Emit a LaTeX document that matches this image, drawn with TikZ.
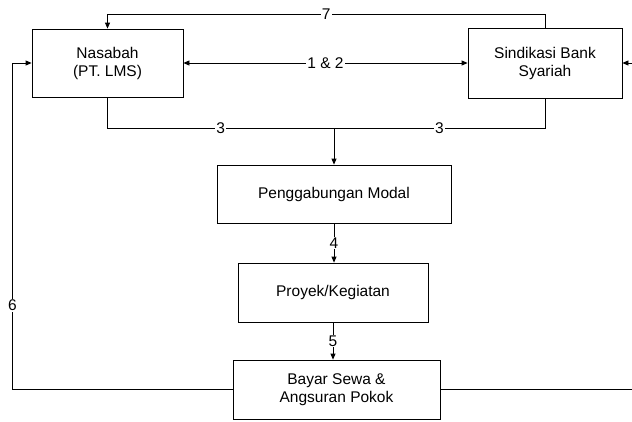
\documentclass[tikz,border=0pt]{standalone}
\usepackage{fontspec}
\setmainfont{Liberation Sans}
\usetikzlibrary{arrows.meta}
\begin{document}
\begin{tikzpicture}[x=1pt,y=-1pt,
  box/.style={draw, line width=0.8pt, align=center, inner sep=0pt, font=\fontsize{15.5}{18}\selectfont},
  conn/.style={line width=0.8pt},
  arr/.style={conn, -{Triangle[length=6pt,width=5pt]}},
  arrb/.style={conn, {Triangle[length=6pt,width=5pt]}-{Triangle[length=6pt,width=5pt]}},
  lab/.style={fill=white, inner sep=1pt, font=\fontsize{15.5}{18}\selectfont}]
\useasboundingbox (0,0) rectangle (632,421);
\fill[white] (0,0) rectangle (632,421);

\node[box, minimum width=151pt, minimum height=68pt] (nas) at (107.5,63) {Nasabah\\(PT. LMS)};
\node[box, minimum width=154pt, minimum height=70pt] (sin) at (545,63) {Sindikasi Bank\\Syariah};
\node[box, minimum width=234pt, minimum height=58pt] (pen) at (334,194) {Penggabungan Modal};
\node[box, minimum width=190pt, minimum height=59pt] (pro) at (333,292.5) {Proyek/Kegiatan};
\node[box, minimum width=207pt, minimum height=59pt] (bay) at (336.5,389.5) {Bayar Sewa \&\\Angsuran Pokok};

\coordinate (t) at (0,14);
\coordinate (j) at (334,128);
\coordinate (l) at (12.5,0);
\coordinate (r) at (634,0);

% 7
\draw[arr] (sin.north) -- (sin.north |- t) -- node[lab]{7} (nas.north |- t) -- (nas.north);
% 1 & 2
\draw[arrb] (nas.east) -- node[lab]{1 \& 2} (sin.west);
% 3
\draw[conn] (nas.south) |- node[lab, pos=0.75]{3} (j);
\draw[conn] (sin.south) |- node[lab, pos=0.75]{3} (j);
\draw[arr] (j) -- (pen.north);
% 4
\draw[arr] (pen.south) -- node[lab]{4} (pen.south |- pro.north);
% 5
\draw[arr] (pro.south) -- node[lab]{5} (pro.south |- bay.north);
% 6
\draw[arr] (bay.west) -- (bay.west -| l) |- node[lab, pos=0.129]{6} (nas.west);
% right loop
\draw[arr] (bay.east) -- (bay.east -| r) |- (sin.east);
\end{tikzpicture}
\end{document}
